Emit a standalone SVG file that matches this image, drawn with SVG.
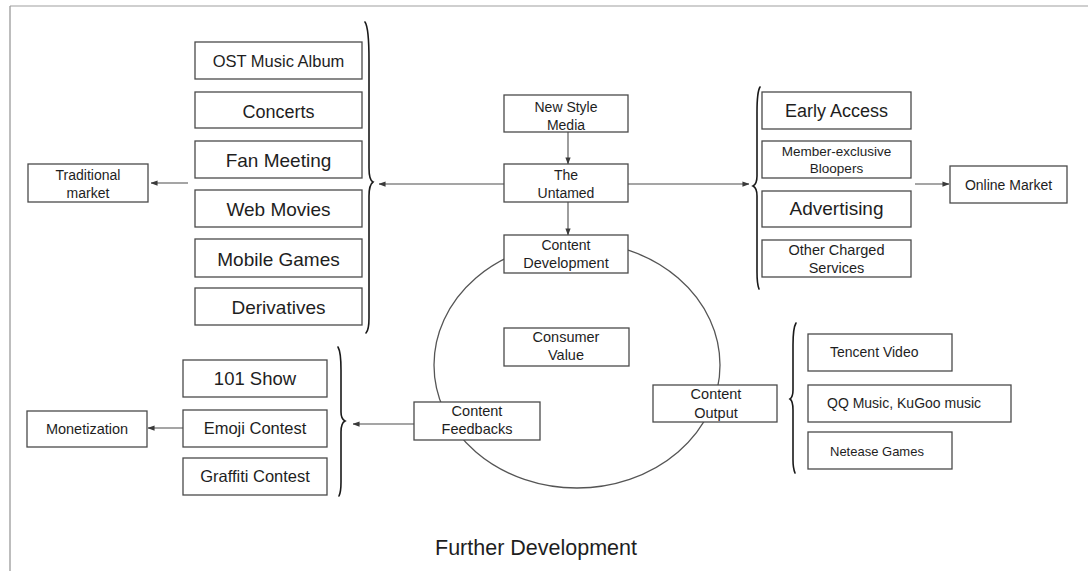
<svg xmlns="http://www.w3.org/2000/svg" width="1088" height="571" viewBox="0 0 1088 571">
  <defs>
    <style>
      .box { fill: #ffffff; stroke: #4a4a4a; stroke-width: 1.3; }
      .t { font-family: "Liberation Sans", Arial, sans-serif; fill: #1e1e1e; text-anchor: middle; }
      .tl { font-family: "Liberation Sans", Arial, sans-serif; fill: #1e1e1e; text-anchor: start; }
      .link { fill: none; stroke: #4d4d4d; stroke-width: 1.1; }
      .brace { fill: none; stroke: #1a1a1a; stroke-width: 1.6; stroke-linecap: round; }
      .loop { fill: none; stroke: #555555; stroke-width: 1.3; }
    </style>
    <marker id="arrow" viewBox="0 0 8 8" refX="7.5" refY="4" markerWidth="7" markerHeight="7" markerUnits="userSpaceOnUse" orient="auto">
      <path d="M0,1 L8,4 L0,7 z" fill="#3a3a3a"/>
    </marker>
  </defs>

  <rect x="0" y="0" width="1088" height="571" fill="#ffffff"/>

  <!-- page frame -->
  <g id="frame">
    <line x1="10" y1="6" x2="1088" y2="6" stroke="#cfcfcf" stroke-width="2"/>
    <line x1="10" y1="6" x2="10" y2="571" stroke="#9a9a9a" stroke-width="1.3"/>
  </g>

  <!-- value loop around the core -->
  <ellipse id="loop" class="loop" cx="577" cy="365" rx="143" ry="123"/>

  <!-- connectors -->
  <g id="connectors">
    <line class="link" x1="568" y1="132" x2="568" y2="164" marker-end="url(#arrow)"/>
    <line class="link" x1="568" y1="202" x2="568" y2="235" marker-end="url(#arrow)"/>
    <line class="link" x1="504" y1="184" x2="379" y2="184" marker-end="url(#arrow)"/>
    <line class="link" x1="628" y1="184" x2="749" y2="184" marker-end="url(#arrow)"/>
    <line class="link" x1="188" y1="183" x2="151" y2="183" marker-end="url(#arrow)"/>
    <line class="link" x1="915" y1="184" x2="949" y2="184" marker-end="url(#arrow)"/>
    <line class="link" x1="414" y1="424" x2="353" y2="424" marker-end="url(#arrow)"/>
    <line class="link" x1="183" y1="428" x2="148" y2="428" marker-end="url(#arrow)"/>
  </g>

  <!-- braces grouping the item lists -->
  <g id="braces">
    <path class="brace" d="M365,22 Q369,28 369,60 L369,168 Q369,180 373,182 Q369,185 369,196 L369,318 Q369,330 366,333"/>
    <path class="brace" d="M760,87 Q757,92 757,112 L757,176 Q757,184 753,186 Q757,188 757,196 L757,272 Q757,284 759,289"/>
    <path class="brace" d="M338,347 Q341,352 341,370 L341,412 Q341,419 345,421 Q341,423 341,432 L341,482 Q341,492 339,496"/>
    <path class="brace" d="M796,323 Q793,328 793,345 L793,390 Q793,397 790,399 Q793,401 793,410 L793,460 Q793,468 795,473"/>
  </g>

  <!-- core chain -->
  <g id="new-style-media">
    <rect class="box" x="504" y="95" width="124" height="37"/>
    <text class="t" x="566" y="112" font-size="14">New Style</text>
    <text class="t" x="566" y="130" font-size="14">Media</text>
  </g>
  <g id="the-untamed">
    <rect class="box" x="504" y="164" width="124" height="38"/>
    <text class="t" x="566" y="180" font-size="14">The</text>
    <text class="t" x="566" y="198" font-size="14">Untamed</text>
  </g>
  <g id="content-development">
    <rect class="box" x="504" y="235" width="124" height="38"/>
    <text class="t" x="566" y="250" font-size="14">Content</text>
    <text class="t" x="566" y="268" font-size="14.5">Development</text>
  </g>
  <g id="consumer-value">
    <rect class="box" x="504" y="328" width="125" height="38"/>
    <text class="t" x="566" y="342" font-size="14.5">Consumer</text>
    <text class="t" x="566" y="360" font-size="14.5">Value</text>
  </g>
  <g id="content-output">
    <rect class="box" x="653" y="385" width="124" height="37"/>
    <text class="t" x="716" y="399" font-size="14.5">Content</text>
    <text class="t" x="716" y="418" font-size="14.5">Output</text>
  </g>
  <g id="content-feedbacks">
    <rect class="box" x="414" y="402" width="126" height="38"/>
    <text class="t" x="477" y="416" font-size="14.5">Content</text>
    <text class="t" x="477" y="434" font-size="14.5">Feedbacks</text>
  </g>

  <!-- traditional market side -->
  <g id="traditional-market">
    <rect class="box" x="28" y="164" width="120" height="38"/>
    <text class="t" x="88" y="180" font-size="14">Traditional</text>
    <text class="t" x="88" y="198" font-size="14">market</text>
  </g>
  <g id="ost-music-album">
    <rect class="box" x="195" y="42" width="167" height="37"/>
    <text class="t" x="278.5" y="67" font-size="16.5">OST Music Album</text>
  </g>
  <g id="concerts">
    <rect class="box" x="195" y="92" width="167" height="36"/>
    <text class="t" x="278.5" y="118" font-size="18">Concerts</text>
  </g>
  <g id="fan-meeting">
    <rect class="box" x="195" y="141" width="167" height="37"/>
    <text class="t" x="278.5" y="167" font-size="19">Fan Meeting</text>
  </g>
  <g id="web-movies">
    <rect class="box" x="195" y="190" width="167" height="37"/>
    <text class="t" x="278.5" y="216" font-size="19">Web Movies</text>
  </g>
  <g id="mobile-games">
    <rect class="box" x="195" y="239" width="167" height="38"/>
    <text class="t" x="278.5" y="266" font-size="19">Mobile Games</text>
  </g>
  <g id="derivatives">
    <rect class="box" x="195" y="288" width="167" height="37"/>
    <text class="t" x="278.5" y="314" font-size="19">Derivatives</text>
  </g>

  <!-- online market side -->
  <g id="early-access">
    <rect class="box" x="762" y="92" width="149" height="37"/>
    <text class="t" x="836.5" y="117" font-size="18">Early Access</text>
  </g>
  <g id="member-exclusive-bloopers">
    <rect class="box" x="762" y="141" width="149" height="37"/>
    <text class="t" x="836.5" y="156" font-size="13.5">Member-exclusive</text>
    <text class="t" x="836.5" y="173" font-size="13.5">Bloopers</text>
  </g>
  <g id="advertising">
    <rect class="box" x="762" y="191" width="149" height="36"/>
    <text class="t" x="836.5" y="215" font-size="19">Advertising</text>
  </g>
  <g id="other-charged-services">
    <rect class="box" x="762" y="240" width="149" height="37"/>
    <text class="t" x="836.5" y="255" font-size="14.5">Other Charged</text>
    <text class="t" x="836.5" y="273" font-size="14.5">Services</text>
  </g>
  <g id="online-market">
    <rect class="box" x="950" y="166" width="117" height="37"/>
    <text class="t" x="1008.5" y="190" font-size="14">Online Market</text>
  </g>

  <!-- output platforms -->
  <g id="tencent-video">
    <rect class="box" x="808" y="334" width="144" height="37"/>
    <text class="tl" x="830" y="357" font-size="14">Tencent Video</text>
  </g>
  <g id="qq-kugoo-music">
    <rect class="box" x="808" y="385" width="203" height="37"/>
    <text class="tl" x="827" y="408" font-size="14">QQ Music, KuGoo music</text>
  </g>
  <g id="netease-games">
    <rect class="box" x="808" y="432" width="144" height="37"/>
    <text class="tl" x="830" y="456" font-size="13">Netease Games</text>
  </g>

  <!-- fan activities and monetization -->
  <g id="show-101">
    <rect class="box" x="183" y="360" width="144" height="37"/>
    <text class="t" x="255" y="385" font-size="18.5">101 Show</text>
  </g>
  <g id="emoji-contest">
    <rect class="box" x="183" y="410" width="144" height="37"/>
    <text class="t" x="255" y="434" font-size="16.5">Emoji Contest</text>
  </g>
  <g id="graffiti-contest">
    <rect class="box" x="183" y="458" width="144" height="37"/>
    <text class="t" x="255" y="482" font-size="16.5">Graffiti Contest</text>
  </g>
  <g id="monetization">
    <rect class="box" x="27" y="411" width="120" height="36"/>
    <text class="t" x="87" y="434" font-size="14.5">Monetization</text>
  </g>

  <text id="further-development" class="tl" x="435" y="555" font-size="21.5">Further Development</text>
</svg>
